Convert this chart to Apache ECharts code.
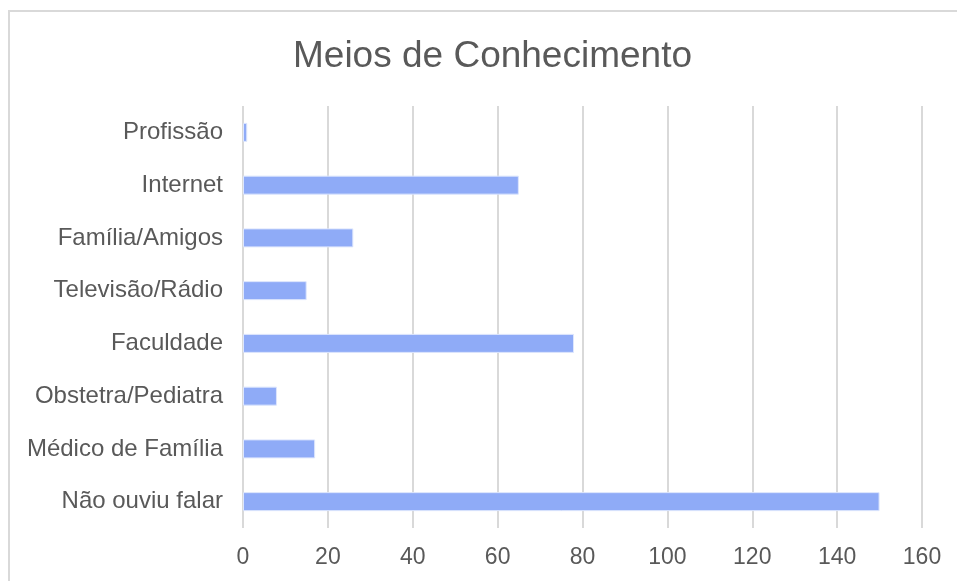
<!DOCTYPE html>
<html>
<head>
<meta charset="utf-8">
<script src="https://cdn.jsdelivr.net/npm/echarts@6/dist/echarts.min.js"></script>
<style>
  html, body { margin: 0; padding: 0; background: #fff; }
  #chart { width: 957px; height: 581px; }
</style>
</head>
<body>
<div id="chart"></div>
<script>
// categories listed bottom to top
const categories = [
  "Não ouviu falar",
  "Médico de Família",
  "Obstetra/Pediatra",
  "Faculdade",
  "Televisão/Rádio",
  "Família/Amigos",
  "Internet",
  "Profissão"
];
const values = [150, 17, 8, 78, 15, 26, 65, 1];
const axisMin = 0;
const axisMax = 160;
const axisStep = 20;

const textColor = "#595959";
const font = "Liberation Sans, Arial, sans-serif";

const chart = echarts.init(document.getElementById("chart"));
chart.setOption({
  animation: false,
  title: {
    text: "Meios de Conhecimento",
    left: 288,
    top: 33,
    textStyle: {
      color: textColor,
      fontSize: 37,
      fontWeight: "normal",
      fontFamily: font
    }
  },
  graphic: [
    {
      type: "rect",
      shape: { x: 9, y: 11, width: 1000, height: 1000 },
      style: { fill: "none", stroke: "#d9d9d9", lineWidth: 2 },
      silent: true
    }
  ],
  grid: {
    left: 243,
    right: 35,
    top: 106,
    bottom: 53,
    containLabel: false
  },
  xAxis: {
    type: "value",
    min: axisMin,
    max: axisMax,
    interval: axisStep,
    axisLine: { show: false },
    axisTick: { show: false },
    splitLine: { show: true, lineStyle: { color: "#d9d9d9", width: 2 } },
    axisLabel: {
      color: textColor,
      fontSize: 23,
      fontFamily: font,
      margin: 18
    }
  },
  yAxis: {
    type: "category",
    data: categories,
    axisLine: { show: false },
    axisTick: { show: false },
    axisLabel: {
      color: textColor,
      fontSize: 24,
      fontFamily: font,
      margin: 20
    }
  },
  series: [
    {
      type: "bar",
      data: values,
      barWidth: 19,
      itemStyle: {
        color: "#8fabf7",
        borderColor: "#dde6fd",
        borderWidth: 1
      }
    }
  ]
});
</script>
</body>
</html>
